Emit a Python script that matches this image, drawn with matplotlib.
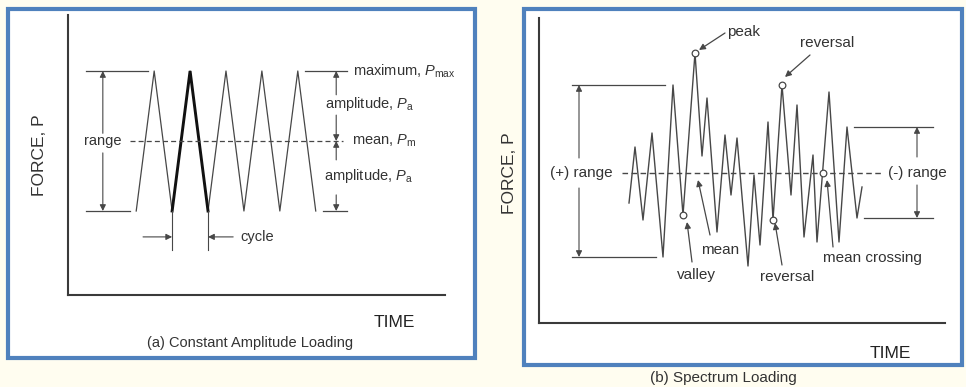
import numpy as np
import matplotlib
matplotlib.use('Agg')
import matplotlib.pyplot as plt
from matplotlib.patches import Rectangle

plt.rcParams.update({
    'font.family': ['Liberation Sans', 'DejaVu Sans'],
    'mathtext.fontset': 'custom',
    'mathtext.rm': 'Liberation Sans',
    'mathtext.it': 'Liberation Sans:italic',
})

W, H = 966, 387
INK = '#333333'
LINE = '#474747'
AXIS = '#3a3a3a'
BLUE = '#4f81bd'
CREAM = '#fffdf0'

# ---- (a) constant amplitude loading: triangle wave (time, force)
wave_time = [1.9, 2.4, 2.9, 3.4, 3.9, 4.4, 4.9, 5.4, 5.9, 6.4, 6.9]
wave_force = [1.2, 3.2, 1.2, 3.2, 1.2, 3.2, 1.2, 3.2, 1.2, 3.2, 1.2]
cycle_start, cycle_end = 2, 4

# ---- (b) spectrum loading: reversal points (time, force)
spec_time = [9.0, 9.6, 10.4, 11.3, 12.4, 13.4, 14.4, 15.6, 16.3, 16.8,
             17.8, 18.6, 19.2, 19.8, 20.9, 21.5, 22.1, 22.9, 23.4, 24.3,
             25.2, 25.8, 26.5, 27.4, 27.8, 29.0, 30.0, 30.8, 31.8, 32.3]
spec_force = [2.40, 3.52, 2.06, 3.80, 1.32, 4.76, 2.16, 5.40, 3.34, 4.50,
              1.82, 3.76, 2.56, 3.70, 1.14, 2.96, 1.56, 4.02, 2.06, 4.76,
              2.56, 4.36, 1.72, 3.36, 1.62, 4.62, 1.62, 3.92, 2.10, 2.72]
spec_mean = 3.0
idx_valley, idx_peak, idx_rev_low, idx_rev_high = 6, 7, 18, 19
idx_pos_lo, idx_pos_hi = 4, 5
idx_neg_hi, idx_neg_lo = 27, 28
idx_cross = 24


def px_axes(fig, x0, y0, x1, y1):
    ax = fig.add_axes([x0 / W, 1 - y1 / H, (x1 - x0) / W, (y1 - y0) / H])
    ax.set_facecolor('none')
    for s in ['top', 'right']:
        ax.spines[s].set_visible(False)
    for s in ['left', 'bottom']:
        ax.spines[s].set_linewidth(1.5)
        ax.spines[s].set_color(AXIS)
    ax.set_xticks([])
    ax.set_yticks([])
    return ax


def arrow(ax, xy_from, xy_to, lw=0.8):
    ax.annotate('', xy=xy_to, xytext=xy_from, annotation_clip=False,
                arrowprops=dict(arrowstyle='-|>', color=LINE, lw=lw,
                                mutation_scale=9, shrinkA=0, shrinkB=0))


def hline(ax, x0, x1, y, **kw):
    ax.plot([x0, x1], [y, y], color=LINE, lw=0.9, clip_on=False, **kw)


fig = plt.figure(figsize=(W / 100, H / 100), dpi=100, facecolor=CREAM)

# panel frames
for (x0, y0, x1, y1) in [(8, 9, 475, 358), (523.5, 8.5, 961.5, 365)]:
    fig.patches.append(Rectangle((x0 / W, 1 - y1 / H), (x1 - x0) / W, (y1 - y0) / H,
                                 transform=fig.transFigure, facecolor='white',
                                 edgecolor=BLUE, lw=3, zorder=-1))

# ============================================================
# (a) Constant amplitude loading
# ============================================================
ax1 = px_axes(fig, 68, 15, 445, 295)
ax1.set_xlim(0, 10.5)
ax1.set_ylim(0, 4)

p_max, p_min = max(wave_force), min(wave_force)
p_m = (p_max + p_min) / 2

ax1.plot(wave_time, wave_force, color=LINE, lw=0.9, clip_on=False)
ax1.plot(wave_time[cycle_start:cycle_end + 1], wave_force[cycle_start:cycle_end + 1],
         color='#111111', lw=2.1, solid_joinstyle='miter')

hline(ax1, 0.5, 2.23, p_max)
hline(ax1, 0.5, 1.73, p_min)
hline(ax1, 6.6, 7.77, p_max)
hline(ax1, 7.1, 7.77, p_min)
ax1.plot([1.73, 7.66], [p_m, p_m], color=LINE, lw=0.9, ls=(0, (4, 2.5)))

# range
arrow(ax1, (0.97, 2.31), (0.97, p_max))
arrow(ax1, (0.97, 2.03), (0.97, p_min))
ax1.text(0.97, p_m, 'range', ha='center', va='center', fontsize=10.5, color=INK)

# amplitudes
arrow(ax1, (7.47, 2.86), (7.47, p_max))
arrow(ax1, (7.47, 2.57), (7.47, p_m))
arrow(ax1, (7.47, 1.93), (7.47, p_m))
arrow(ax1, (7.47, 1.43), (7.47, p_min))
ax1.text(7.94, p_max, r'maximum, $P_{\mathrm{max}}$', ha='left', va='center',
         fontsize=10.5, color=INK, clip_on=False)
ax1.text(7.16, 2.73, r'amplitude, $P_{\mathrm{a}}$', ha='left', va='center',
         fontsize=10.5, color=INK)
ax1.text(7.91, p_m, r'mean, $P_{\mathrm{m}}$', ha='left', va='center',
         fontsize=10.5, color=INK)
ax1.text(7.13, 1.70, r'amplitude, $P_{\mathrm{a}}$', ha='left', va='center',
         fontsize=10.5, color=INK)

# cycle
t_a, t_b = wave_time[cycle_start], wave_time[cycle_end]
for t in (t_a, t_b):
    ax1.plot([t, t], [p_min, 0.64], color=LINE, lw=0.8)
arrow(ax1, (2.09, 0.83), (t_a, 0.83))
arrow(ax1, (4.6, 0.83), (t_b, 0.83))
ax1.text(4.79, 0.83, 'cycle', ha='left', va='center', fontsize=10.5, color=INK)

ax1.text(-0.78, 2.0, 'FORCE, P', rotation=90, ha='center', va='center',
         fontsize=12.5, color=INK, clip_on=False)
ax1.text(9.1, -0.39, 'TIME', ha='center', va='center', fontsize=12.5,
         color='#222222', clip_on=False)
fig.text(250 / W, 1 - 343 / H, '(a) Constant Amplitude Loading', ha='center',
         va='center', fontsize=10.5, color=INK)

# ============================================================
# (b) Spectrum loading
# ============================================================
ax2 = px_axes(fig, 539, 18, 945, 323)
ax2.set_xlim(0, 40.6)
ax2.set_ylim(0, 6.1)

ax2.plot(spec_time, spec_force, color=LINE, lw=1.0, clip_on=False)
ax2.plot([8.3, 34.3], [spec_mean, spec_mean], color=LINE, lw=1.0, ls=(0, (4, 2.5)))

# (+) range
pos_lo, pos_hi = spec_force[idx_pos_lo], spec_force[idx_pos_hi]
hline(ax2, 3.3, 12.6, pos_hi)
hline(ax2, 3.3, 11.7, pos_lo)
arrow(ax2, (4.0, 3.30), (4.0, pos_hi))
arrow(ax2, (4.0, 2.70), (4.0, pos_lo))
ax2.text(7.4, spec_mean, '(+) range', ha='right', va='center', fontsize=11, color=INK)

# (-) range
neg_lo, neg_hi = spec_force[idx_neg_lo], spec_force[idx_neg_hi]
hline(ax2, 31.5, 39.4, neg_hi)
hline(ax2, 32.5, 39.4, neg_lo)
arrow(ax2, (37.8, 3.32), (37.8, neg_hi))
arrow(ax2, (37.8, 2.76), (37.8, neg_lo))
ax2.text(34.9, spec_mean, '(-) range', ha='left', va='center', fontsize=11, color=INK)

# marked points
t_cross = np.interp(spec_mean, [spec_force[idx_cross], spec_force[idx_cross + 1]],
                    [spec_time[idx_cross], spec_time[idx_cross + 1]])
mk_t = [spec_time[i] for i in (idx_peak, idx_valley, idx_rev_high, idx_rev_low)] + [t_cross]
mk_f = [spec_force[i] for i in (idx_peak, idx_valley, idx_rev_high, idx_rev_low)] + [spec_mean]
ax2.plot(mk_t, mk_f, ls='none', marker='o', ms=4.8, mfc='white', mec=LINE, mew=0.9,
         clip_on=False)

labels = [
    ('peak', (18.8, 5.82), 'left', (18.6, 5.80), (16.0, 5.46)),
    ('reversal', (28.8, 5.60), 'center', (27.1, 5.36), (24.6, 4.92)),
    ('valley', (15.7, 0.96), 'center', (15.3, 1.22), (14.8, 2.02)),
    ('mean', (18.1, 1.46), 'center', (17.1, 1.76), (15.9, 2.86)),
    ('reversal', (24.8, 0.92), 'center', (24.3, 1.16), (23.6, 2.00)),
    ('mean crossing', (28.4, 1.30), 'left', (29.4, 1.52), (28.8, 2.86)),
]
for txt, pos, ha, a_from, a_to in labels:
    ax2.text(pos[0], pos[1], txt, ha=ha, va='center', fontsize=11, color=INK,
             clip_on=False)
    arrow(ax2, a_from, a_to, lw=0.9)

ax2.text(-2.9, 3.0, 'FORCE, P', rotation=90, ha='center', va='center',
         fontsize=12.5, color=INK, clip_on=False)
ax2.text(35.1, -0.62, 'TIME', ha='center', va='center', fontsize=12.5,
         color='#222222', clip_on=False)
fig.text(723 / W, 1 - 378 / H, '(b) Spectrum Loading', ha='center', va='center',
         fontsize=11, color=INK)

fig.savefig('out.png', dpi=100, facecolor=CREAM)
